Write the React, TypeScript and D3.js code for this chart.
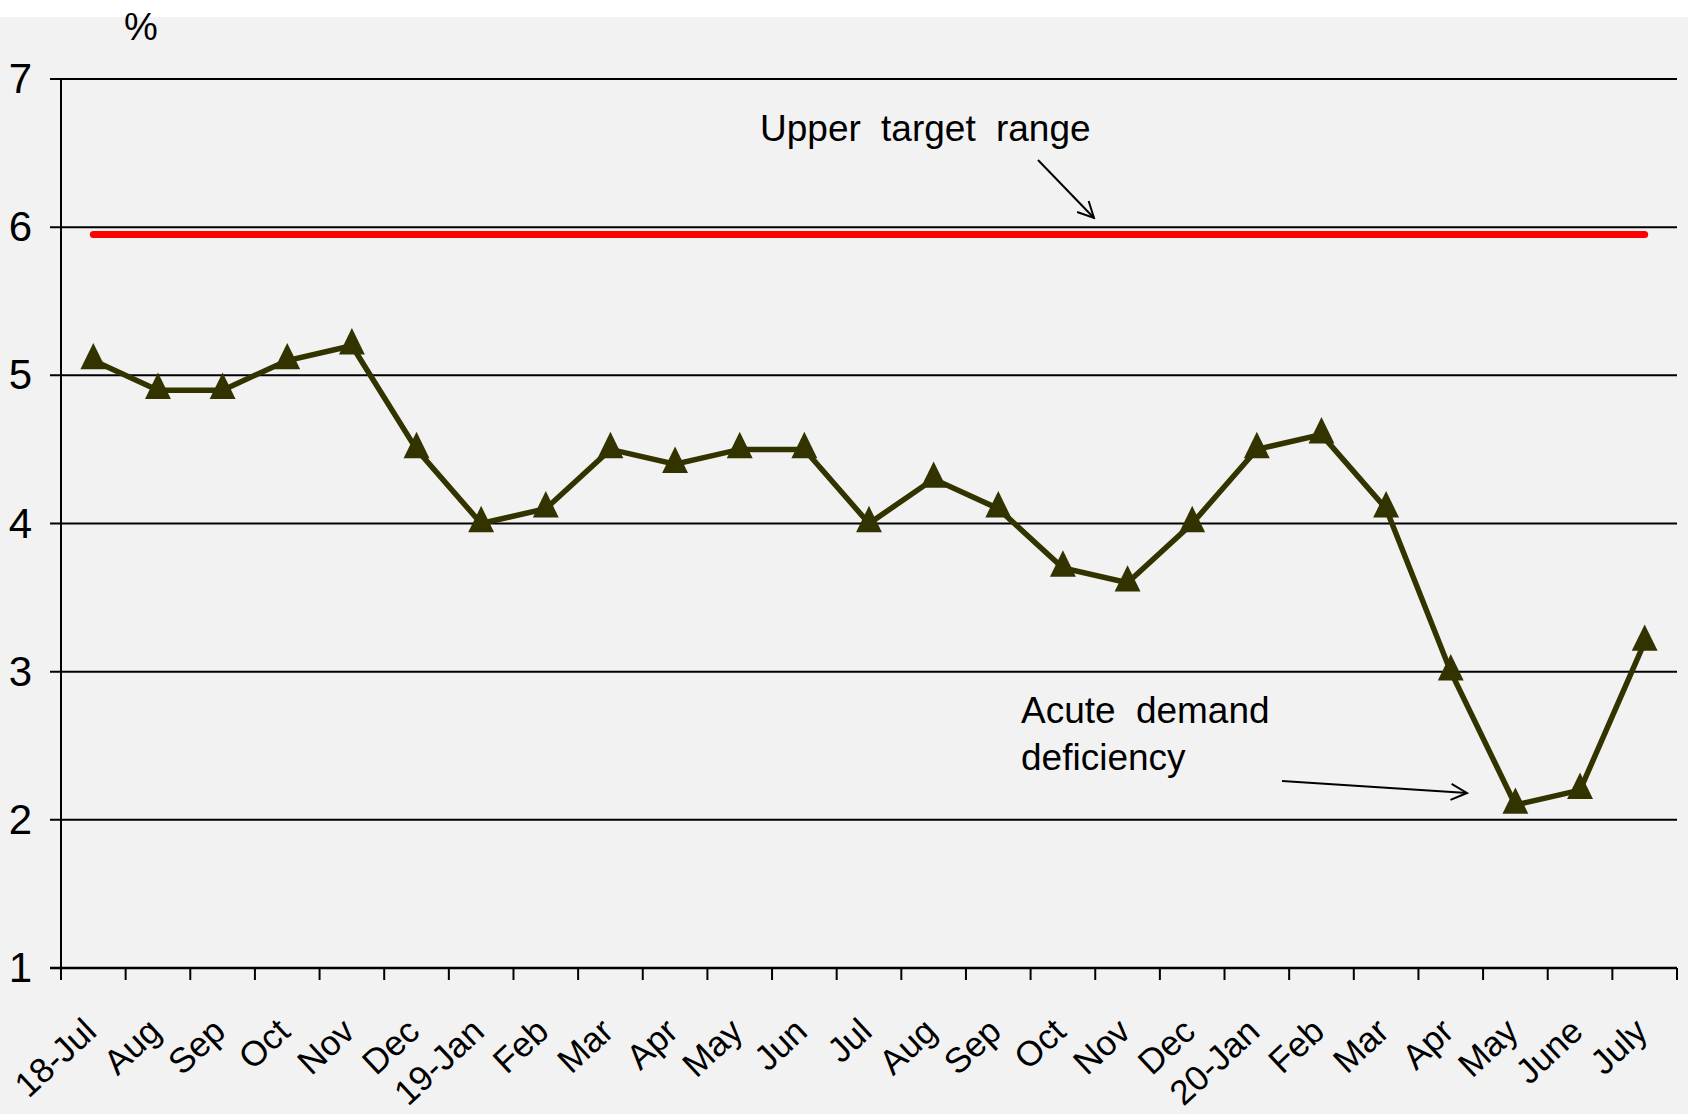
import React from "react";
import * as d3 from "d3";

const categories = [
  "18-Jul", "Aug", "Sep", "Oct", "Nov", "Dec", "19-Jan", "Feb", "Mar", "Apr", "May", "Jun",
  "Jul", "Aug", "Sep", "Oct", "Nov", "Dec", "20-Jan", "Feb", "Mar", "Apr", "May", "June", "July",
];
const values = [
  5.1, 4.9, 4.9, 5.1, 5.2, 4.5, 4.0, 4.1, 4.5, 4.4, 4.5, 4.5,
  4.0, 4.3, 4.1, 3.7, 3.6, 4.0, 4.5, 4.6, 4.1, 3.0, 2.1, 2.2, 3.2,
];
const yTicks = [1, 2, 3, 4, 5, 6, 7];
const upperTarget = 5.95;

const W = 1688;
const H = 1114;
const FONT = "'Liberation Sans', Arial, sans-serif";

export default function App() {
  const x0 = 61;
  const x1 = 1677;
  const yTop = 79;
  const yBot = 968;

  const xBand = d3.scaleBand<number>().domain(d3.range(categories.length)).range([x0, x1]).padding(0);
  const xc = (i: number) => (xBand(i) as number) + xBand.bandwidth() / 2;
  const y = d3.scaleLinear().domain([1, 7]).range([yBot, yTop]);

  const line = d3
    .line<number>()
    .x((_, i) => xc(i))
    .y((d) => y(d));

  const tri = d3.symbol().type(d3.symbolTriangle).size(290)();

  const tickXs = d3.range(categories.length + 1).map((i) => x0 + i * xBand.bandwidth());

  return (
    <svg
      width={W}
      height={H}
      style={{ position: "absolute", left: 0, top: 0, display: "block" }}
      fontFamily={FONT}
    >
      <defs>
        <marker id="arrowOpen" viewBox="0 0 20 20" refX="18" refY="10" markerWidth="20" markerHeight="20" markerUnits="userSpaceOnUse" orient="auto">
          <path d="M2,2 L18,10 L2,18" fill="none" stroke="#000" strokeWidth={2} />
        </marker>
      </defs>
      <rect x={0} y={0} width={W} height={H} fill="#ffffff" />
      <rect x={0} y={17} width={W} height={H - 17} fill="#f2f2f2" />

      {/* gridlines + y ticks */}
      {yTicks.map((t) => (
        <g key={t}>
          <line x1={50} x2={x1} y1={y(t)} y2={y(t)} stroke="#000" strokeWidth={t === 1 ? 2.5 : 2} />
          <text x={32} y={y(t) + 14} textAnchor="end" fontSize={42} fill="#000">
            {t}
          </text>
        </g>
      ))}

      {/* y axis */}
      <line x1={x0} x2={x0} y1={yTop} y2={yBot} stroke="#000" strokeWidth={2} />

      {/* x ticks */}
      {tickXs.map((tx, i) => (
        <line key={i} x1={tx} x2={tx} y1={yBot} y2={yBot + 12} stroke="#000" strokeWidth={2} />
      ))}

      {/* x labels */}
      {categories.map((c, i) => (
        <text
          key={i}
          transform={`translate(${xc(i) + 5},${yBot + 66}) rotate(-43)`}
          textAnchor="end"
          fontSize={35}
          fill="#000"
        >
          {c}
        </text>
      ))}

      {/* % label */}
      <text x={124} y={40} fontSize={38} fill="#000">%</text>

      {/* upper target */}
      <line
        x1={xc(0)}
        x2={xc(categories.length - 1)}
        y1={y(upperTarget)}
        y2={y(upperTarget)}
        stroke="#ff0000"
        strokeWidth={7}
        strokeLinecap="round"
      />

      {/* series */}
      <path d={line(values) || ""} fill="none" stroke="#333300" strokeWidth={5.5} strokeLinejoin="miter" />
      {values.map((v, i) => (
        <path key={i} d={tri || ""} transform={`translate(${xc(i)},${y(v)}) scale(1,1.18)`} fill="#333300" />
      ))}

      {/* annotations */}
      <text x={760} y={141} fontSize={37} wordSpacing={10} fill="#000">Upper target range</text>
      <line x1={1038} y1={160} x2={1094} y2={218} stroke="#000" strokeWidth={2} markerEnd="url(#arrowOpen)" />

      <text x={1021} y={723} fontSize={37} wordSpacing={10} fill="#000">Acute demand</text>
      <text x={1021} y={770} fontSize={37} fill="#000">deficiency</text>
      <line x1={1282} y1={781} x2={1467} y2={793} stroke="#000" strokeWidth={2} markerEnd="url(#arrowOpen)" />
    </svg>
  );
}
